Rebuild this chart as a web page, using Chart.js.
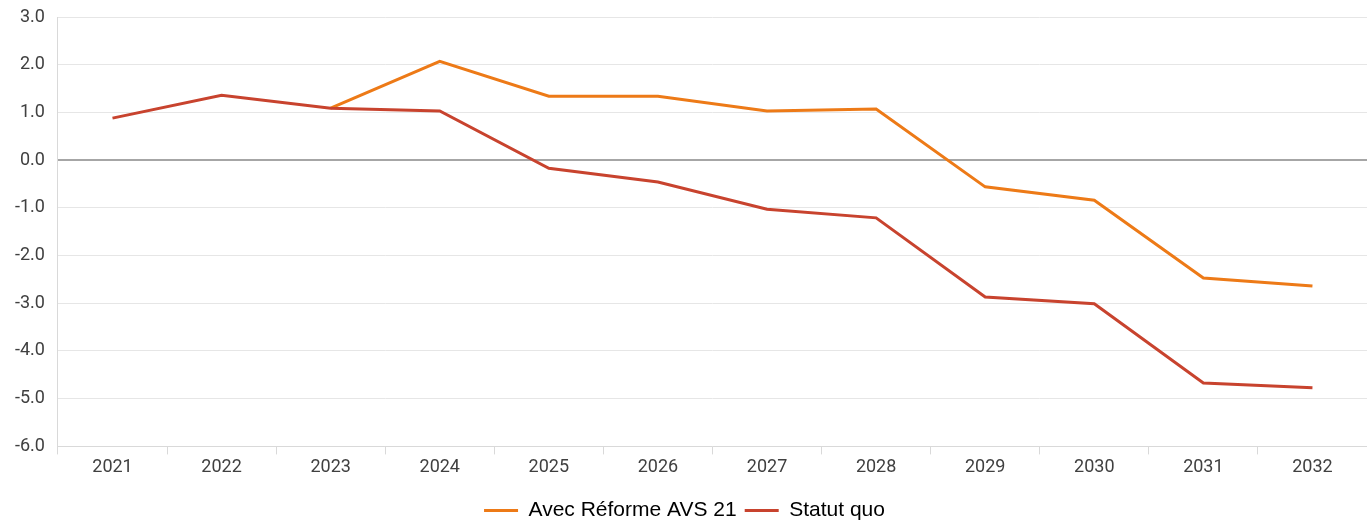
<!DOCTYPE html>
<html>
<head>
<meta charset="utf-8">
<script src="https://cdn.jsdelivr.net/npm/chart.js@4"></script>
<style>
  html, body { margin: 0; padding: 0; background: #fff; }
  #wrap { width: 1367px; height: 522px; }
</style>
</head>
<body>
<div id="wrap"><canvas id="chart" width="1367" height="522"></canvas></div>
<script>
const years = ['2021', '2022', '2023', '2024', '2025', '2026', '2027', '2028', '2029', '2030', '2031', '2032'];
const avecReforme = [null, null, 1.09, 2.07, 1.34, 1.34, 1.03, 1.07, -0.56, -0.84, -2.47, -2.64];
const statutQuo = [0.88, 1.36, 1.09, 1.03, -0.17, -0.46, -1.03, -1.21, -2.87, -3.01, -4.67, -4.77];

const ctx = document.getElementById('chart').getContext('2d');
const chart = new Chart(ctx, {
    type: 'line',
    data: {
        labels: years,
        datasets: [
            {
                label: 'Avec Réforme AVS 21',
                data: avecReforme,
                borderColor: '#ED7A17',
                backgroundColor: '#ED7A17',
                borderWidth: 3,
                pointRadius: 0,
                tension: 0,
                order: 2
            },
            {
                label: 'Statut quo',
                data: statutQuo,
                borderColor: '#C8432E',
                backgroundColor: '#C8432E',
                borderWidth: 3,
                pointRadius: 0,
                tension: 0,
                order: 1
            }
        ]
    },
    options: {
        responsive: false,
        animation: false,
        layout: { padding: { top: 17, right: 0, left: 2, bottom: -9 } },
        scales: {
            x: {
                offset: true,
                grid: {
                    offset: true,
                    drawOnChartArea: false,
                    tickLength: 8,
                    color: '#d9d9d9'
                },
                border: { color: '#d9d9d9', width: 1 },
                ticks: {
                    color: '#404040',
                    font: { family: 'Roboto', size: 18 },
                    padding: 2
                },
                // empty title only used as spacer above the legend
                title: { display: true, text: '', font: { size: 10 }, padding: 0 }
            },
            y: {
                min: -6,
                max: 3,
                afterFit: scale => { scale.paddingTop = 0; },
                ticks: {
                    stepSize: 1,
                    color: '#404040',
                    font: { family: 'Roboto', size: 18 },
                    padding: 13,
                    callback: v => v.toFixed(1)
                },
                grid: {
                    drawTicks: false,
                    color: c => c.tick && c.tick.value === 0 ? '#a6a6a6' : '#e6e6e6',
                    lineWidth: c => c.tick && c.tick.value === 0 ? 2 : 1
                },
                border: { color: '#d9d9d9', width: 1 }
            }
        },
        plugins: {
            legend: {
                position: 'bottom',
                labels: {
                    boxWidth: 34,
                    boxHeight: 3,
                    padding: 8,
                    color: '#000',
                    font: { family: 'Liberation Sans', size: 21 },
                    sort: (a, b) => a.datasetIndex - b.datasetIndex,
                    generateLabels: chart => Chart.defaults.plugins.legend.labels.generateLabels(chart)
                        .map(item => ({ ...item, lineWidth: 0 }))
                }
            },
            tooltip: { enabled: false }
        }
    }
});
</script>
</body>
</html>
